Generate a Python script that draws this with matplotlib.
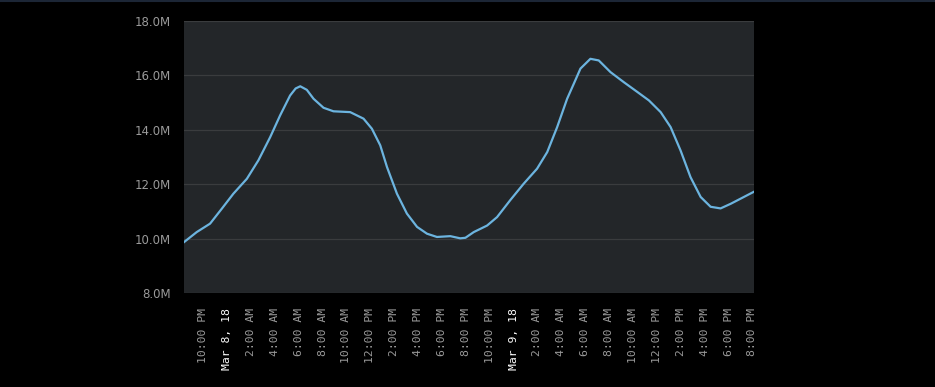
import matplotlib
matplotlib.use("Agg")
import matplotlib.pyplot as plt
from matplotlib.lines import Line2D
import pandas as pd

# values (millions)
times = [
    "2018-03-07 20:24", "2018-03-07 21:28", "2018-03-07 22:35", "2018-03-07 23:34",
    "2018-03-08 00:32", "2018-03-08 01:40", "2018-03-08 02:38", "2018-03-08 03:37",
    "2018-03-08 04:27", "2018-03-08 05:17", "2018-03-08 05:45", "2018-03-08 06:08",
    "2018-03-08 06:41", "2018-03-08 07:15", "2018-03-08 08:05", "2018-03-08 08:55",
    "2018-03-08 10:19", "2018-03-08 11:26", "2018-03-08 12:08", "2018-03-08 12:50",
    "2018-03-08 13:24", "2018-03-08 14:14", "2018-03-08 15:04", "2018-03-08 15:55",
    "2018-03-08 16:45", "2018-03-08 17:35", "2018-03-08 18:42", "2018-03-08 19:32",
    "2018-03-08 19:58", "2018-03-08 20:40", "2018-03-08 21:47", "2018-03-08 22:37",
    "2018-03-08 23:44", "2018-03-09 00:51", "2018-03-09 01:58", "2018-03-09 02:49",
    "2018-03-09 03:39", "2018-03-09 04:29", "2018-03-09 05:06", "2018-03-09 05:36",
    "2018-03-09 06:26", "2018-03-09 07:08", "2018-03-09 08:07", "2018-03-09 09:14",
    "2018-03-09 10:22", "2018-03-09 11:20", "2018-03-09 12:19", "2018-03-09 13:09",
    "2018-03-09 13:59", "2018-03-09 14:49", "2018-03-09 15:40", "2018-03-09 16:30",
    "2018-03-09 17:20", "2018-03-09 18:11", "2018-03-09 19:09", "2018-03-09 20:07",
]
values = [
    9.87, 10.24, 10.55, 11.10,
    11.65, 12.20, 12.88, 13.73,
    14.53, 15.26, 15.52, 15.60,
    15.47, 15.14, 14.81, 14.68,
    14.65, 14.41, 14.04, 13.43,
    12.63, 11.65, 10.92, 10.43,
    10.18, 10.06, 10.09, 10.01,
    10.03, 10.24, 10.48, 10.79,
    11.42, 12.02, 12.57, 13.18,
    14.10, 15.14, 15.75, 16.25,
    16.61, 16.55, 16.12, 15.75,
    15.39, 15.08, 14.65, 14.10,
    13.24, 12.26, 11.53, 11.17,
    11.11, 11.28, 11.50, 11.72,
]

y_ticks = [8, 10, 12, 14, 16, 18]
y_labels = [f"{v:.1f}M" for v in y_ticks]

x_ticks = pd.date_range("2018-03-07 22:00", "2018-03-09 20:00", freq="2h")
x_labels = [f"{t:%b} {t.day}, {t:%y}" if t.hour == 0 else t.strftime("%I:%M %p").lstrip("0")
            for t in x_ticks]

BG = "#000000"
PLOT_BG = "#232629"
GRID = "#3a3c3e"
LINE = "#6cb4df"
TXT = "#9a9a9a"

fig = plt.figure(figsize=(9.35, 3.87), dpi=100, facecolor=BG)
ax = fig.add_axes([184 / 935, 1 - 293 / 387, 570 / 935, 272 / 387])
ax.set_facecolor(PLOT_BG)

ts = pd.to_datetime(times)
ax.plot(ts, values, color=LINE, lw=1.6, solid_joinstyle="round")

ax.set_xlim(pd.Timestamp("2018-03-07 20:24"), pd.Timestamp("2018-03-09 20:08"))
ax.set_ylim(8, 18)
ax.set_yticks(y_ticks, y_labels)
ax.set_xticks(x_ticks, x_labels)
ax.grid(axis="y", color=GRID, lw=0.9)
ax.set_axisbelow(True)
for s in ax.spines.values():
    s.set_visible(False)

ax.tick_params(axis="y", length=0, pad=9.5, labelsize=8.5, labelcolor=TXT)
ax.tick_params(axis="x", length=0, pad=11, labelsize=8.2, labelcolor=TXT, rotation=90)
for lbl, t in zip(ax.get_xticklabels(), x_ticks):
    lbl.set_family("DejaVu Sans Mono")
    if t.hour == 0:
        lbl.set_color("white")

fig.add_artist(Line2D([0, 1], [0.9985, 0.9985], transform=fig.transFigure,
                      color="#1c2636", lw=1.5))

plt.savefig("out.png", dpi=100, facecolor=BG)
plt.close(fig)
